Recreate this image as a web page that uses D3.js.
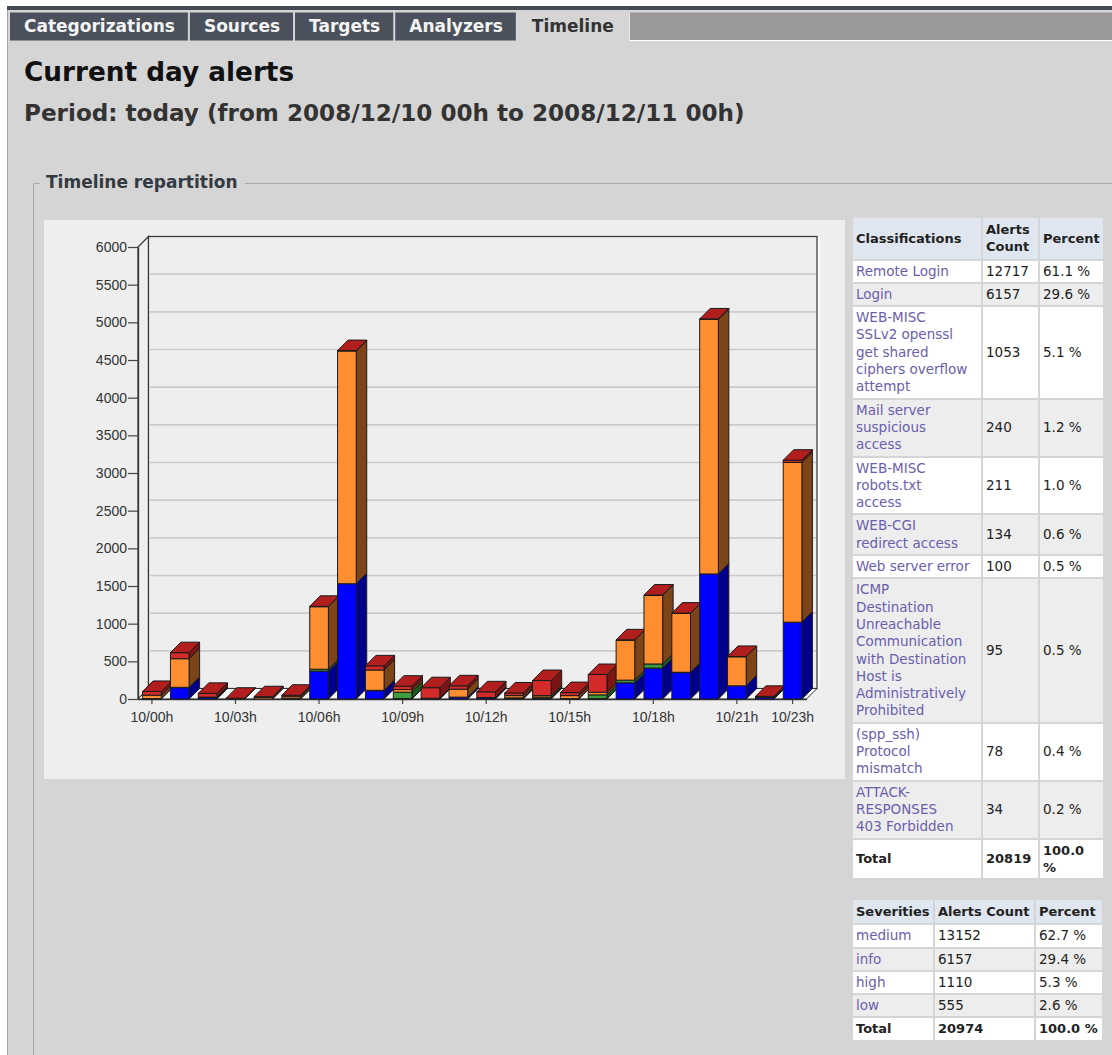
<!DOCTYPE html>
<html>
<head>
<meta charset="utf-8">
<title>Timeline</title>
<script src="https://cdn.jsdelivr.net/npm/d3@7"></script>
<style>
  body { margin:0; width:1112px; height:1055px; overflow:hidden; background:#fff; position:relative; font-family:"DejaVu Sans", Verdana, sans-serif; }
  #page { position:absolute; left:0; top:0; }
  table.stats { position:absolute; left:851px; border-collapse:separate; border-spacing:2px; table-layout:fixed; font-size:13.5px; color:#222; }
  table.stats td { padding:2px 3px; line-height:17.3px; box-sizing:border-box; white-space:pre; text-align:left; vertical-align:middle; }
  table.stats tr.head td { background:#dfe6f0; font-weight:bold; font-size:13px; padding:3px 3px; }
  table.stats tr.odd td { background:#ffffff; }
  table.stats tr.even td { background:#ededed; }
  table.stats tr.total td { background:#ffffff; font-weight:bold; font-size:13px; }
  table.stats td.name { color:#6a5ead; }
</style>
</head>
<body>
<div id="page"></div>
<script>
// ---------------- data ----------------
var tabNames = ["Categorizations", "Sources", "Targets", "Analyzers", "Timeline"];
var activeTab = "Timeline";

var hours = ["10/00h","10/01h","10/02h","10/03h","10/04h","10/05h","10/06h","10/07h",
             "10/08h","10/09h","10/10h","10/11h","10/12h","10/13h","10/14h","10/15h",
             "10/16h","10/17h","10/18h","10/19h","10/20h","10/21h","10/22h","10/23h"];
var shownHours = ["10/00h","10/03h","10/06h","10/09h","10/12h","10/15h","10/18h","10/21h","10/23h"];
var yTicks = [0,500,1000,1500,2000,2500,3000,3500,4000,4500,5000,5500,6000];

// stacked from the bottom: info (blue), low (green), medium (orange), high (red)
var infoCounts   = [0,150,20,0,0,5,370,1530,110,5,5,25,15,10,5,0,5,215,410,350,1660,175,20,1020];
var lowCounts    = [5,5,0,0,0,0,25,0,5,85,0,0,0,5,20,5,50,35,55,5,0,0,0,0];
var mediumCounts = [45,380,5,0,20,25,830,3090,270,35,5,105,5,30,20,40,35,530,910,780,3380,385,5,2120];
var highCounts   = [50,80,50,10,10,20,5,5,55,45,140,45,75,35,200,40,235,5,5,5,5,5,10,30];

var classNames = ["Remote Login", "Login", "WEB-MISC\nSSLv2 openssl\nget shared\nciphers overflow\nattempt",
                  "Mail server\nsuspicious\naccess", "WEB-MISC\nrobots.txt\naccess", "WEB-CGI\nredirect access",
                  "Web server error",
                  "ICMP\nDestination\nUnreachable\nCommunication\nwith Destination\nHost is\nAdministratively\nProhibited",
                  "(spp_ssh)\nProtocol\nmismatch", "ATTACK-\nRESPONSES\n403 Forbidden"];
var classCounts   = [12717, 6157, 1053, 240, 211, 134, 100, 95, 78, 34];
var classPercents = ["61.1 %","29.6 %","5.1 %","1.2 %","1.0 %","0.6 %","0.5 %","0.5 %","0.4 %","0.2 %"];
var classTotal = [20819, "100.0\n%"];

var sevNames    = ["medium", "info", "high", "low"];
var sevCounts   = [13152, 6157, 1110, 555];
var sevPercents = ["62.7 %", "29.4 %", "5.3 %", "2.6 %"];
var sevTotal = [20974, "100.0 %"];

// ---------------- page chrome ----------------
var W = 1112, H = 1055;
var svg = d3.select("#page").append("svg").attr("width", W).attr("height", H);

svg.append("rect").attr("width", W).attr("height", H).attr("fill", "#fff");
svg.append("rect").attr("x", 7).attr("y", 10).attr("width", W - 7).attr("height", H - 10).attr("fill", "#d5d5d5");
svg.append("line").attr("x1", 7.5).attr("y1", 10).attr("x2", 7.5).attr("y2", H).attr("stroke", "#a5a5a5");
svg.append("rect").attr("x", 7).attr("y", 6).attr("width", W - 7).attr("height", 4).attr("fill", "#444b55");

// tabs
var tabX = 10;
tabNames.forEach(function(name){
    var active = name == activeTab;
    var tg = svg.append("g");
    var bg = tg.append("rect").attr("x", tabX).attr("y", 12.5).attr("height", 28)
               .attr("fill", active ? "#d5d5d5" : "#4a515c");
    var t = tg.append("text").text(name)
              .attr("x", tabX + 14).attr("y", 32)
              .attr("font-size", "17px").attr("font-weight", "bold")
              .attr("fill", active ? "#333" : "#f4f4f4");
    var w = t.node().getComputedTextLength() + 27;
    bg.attr("width", w);
    if (active) bg.attr("y", 10).attr("height", 31);
    tabX += w + 2;
});
svg.append("rect").attr("x", tabX).attr("y", 12.5).attr("width", W - tabX).attr("height", 28).attr("fill", "#999");
svg.append("path").attr("d", "M" + (tabX + 0.5) + ",12.5V40.5H" + W).attr("fill", "none").attr("stroke", "#fff");

svg.append("text").text("Current day alerts").attr("x", 24).attr("y", 81)
   .attr("font-size", "26.3px").attr("font-weight", "bold").attr("fill", "#111");
svg.append("text").text("Period: today (from 2008/12/10 00h to 2008/12/11 00h)").attr("x", 24).attr("y", 121)
   .attr("font-size", "23.1px").attr("font-weight", "bold").attr("fill", "#333");

// fieldset
svg.append("path").attr("d", "M40,183.5H33.5V" + H + "M245,183.5H" + W)
   .attr("fill", "none").attr("stroke", "#a9a9a9");
svg.append("text").text("Timeline repartition").attr("x", 46).attr("y", 188)
   .attr("font-size", "17px").attr("font-weight", "bold").attr("fill", "#333a42");

// ---------------- chart ----------------
svg.append("rect").attr("x", 44).attr("y", 220).attr("width", 801).attr("height", 559).attr("fill", "#eeeeee");

var x = d3.scaleBand().domain(hours).range([138, 806.5]).paddingInner(0.33).paddingOuter(0.165);
var y = d3.scaleLinear().domain([0, 6000]).range([699, 247]);
var depth = 10.5;

var colors = {
    info:   {front: "#0000ff", side: "#00008c", top: "#0000b4"},
    low:    {front: "#3e9b3e", side: "#1d5c1d", top: "#2f7a2f"},
    medium: {front: "#ff8e30", side: "#7c4417", top: "#c86a20"},
    high:   {front: "#d52a2a", side: "#7d1414", top: "#b21e1e"}
};

var x0 = x.range()[0], x1 = x.range()[1];
var wallTop = y(6000) - depth, wallBottom = y(0) - depth;

var chart = svg.append("g");
// side wall + back wall
chart.append("path")
     .attr("d", "M" + x0 + "," + y(6000) + "L" + (x0 + depth) + "," + wallTop + "V" + wallBottom + "L" + x0 + "," + y(0) + "Z")
     .attr("fill", "#eeeeee").attr("stroke", "#333").attr("stroke-width", 1.2);
chart.append("rect").attr("x", x0 + depth).attr("y", wallTop)
     .attr("width", x1 - x0).attr("height", wallBottom - wallTop)
     .attr("fill", "#eeeeee").attr("stroke", "#333").attr("stroke-width", 1.2);
chart.append("line").attr("x1", x1 + depth + 2).attr("x2", x1 + depth + 2)
     .attr("y1", wallTop + 1).attr("y2", wallBottom).attr("stroke", "#fff").attr("stroke-width", 1.5);

chart.selectAll("line.grid").data(yTicks.slice(1, -1)).enter().append("line")
     .attr("class", "grid")
     .attr("x1", x0 + depth + 1).attr("x2", x1 + depth - 1)
     .attr("y1", function(d){ return y(d) - depth; })
     .attr("y2", function(d){ return y(d) - depth; })
     .attr("stroke", "#cbcbcb").attr("stroke-width", 1.6);

// floor
chart.append("path")
     .attr("d", "M" + x0 + "," + y(0) + "L" + (x0 + depth) + "," + wallBottom + "H" + (x1 + depth) + "L" + x1 + "," + y(0) + "Z")
     .attr("fill", "#f8f8f8").attr("stroke", "#333").attr("stroke-width", 1);

// axes
var yAxis = d3.axisLeft(y).tickValues(yTicks).tickFormat(d3.format("d")).tickSize(10).tickSizeOuter(0).tickPadding(1);
var gy = chart.append("g").attr("transform", "translate(" + x0 + ",0)").call(yAxis);
var xAxis = d3.axisBottom(x).tickValues(shownHours).tickSize(5).tickSizeOuter(0).tickPadding(8);
var gx = chart.append("g").attr("transform", "translate(0," + y(0) + ")").call(xAxis);
[gy, gx].forEach(function(a){
    a.select(".domain").attr("stroke", "#333").attr("stroke-width", 1.3);
    a.selectAll(".tick line").attr("stroke", "#444").attr("stroke-width", 1.2);
    a.selectAll(".tick text").attr("font-family", "'Liberation Sans', Arial, sans-serif")
     .attr("font-size", "14px").attr("fill", "#333");
});

// stacked 3D bars
var rows = hours.map(function(h, i){
    return {hour: h, info: infoCounts[i], low: lowCounts[i], medium: mediumCounts[i], high: highCounts[i]};
});
var stack = d3.stack().keys(["info", "low", "medium", "high"])(rows);

var bars = chart.append("g").attr("stroke", "#1a1a1a").attr("stroke-width", 1).attr("stroke-linejoin", "round");
hours.forEach(function(h, i){
    var bx = x(h), bw = x.bandwidth();
    stack.forEach(function(layer, k){
        var d = layer[i], yt = y(d[1]), yb = y(d[0]);
        var c = colors[layer.key];
        if (yb - yt > 0.3) {
            bars.append("path")
                .attr("d", "M" + (bx + bw) + "," + yt + "L" + (bx + bw + depth) + "," + (yt - depth) +
                           "V" + (yb - depth) + "L" + (bx + bw) + "," + yb + "Z")
                .attr("fill", c.side);
            bars.append("rect").attr("x", bx).attr("y", yt).attr("width", bw).attr("height", yb - yt)
                .attr("fill", c.front);
        }
        if (k == stack.length - 1) {
            bars.append("path")
                .attr("d", "M" + bx + "," + yt + "L" + (bx + depth) + "," + (yt - depth) +
                           "H" + (bx + bw + depth) + "L" + (bx + bw) + "," + yt + "Z")
                .attr("fill", c.top);
        }
    });
});

// ---------------- tables ----------------
function buildTable(top, widths, header, names, counts, percents, total){
    var table = d3.select("body").append("table").attr("class", "stats").style("top", top + "px");
    var hr = table.append("tr").attr("class", "head");
    header.forEach(function(t, j){ hr.append("td").style("width", widths[j] + "px").text(t); });
    names.forEach(function(n, i){
        var tr = table.append("tr").attr("class", i % 2 == 0 ? "odd" : "even");
        tr.append("td").attr("class", "name").text(n);
        tr.append("td").text(counts[i]);
        tr.append("td").text(percents[i]);
    });
    var tt = table.append("tr").attr("class", "total");
    tt.append("td").text("Total");
    tt.append("td").text(total[0]);
    tt.append("td").text(total[1]);
}

buildTable(216, [128, 55, 62], ["Classifications", "Alerts\nCount", "Percent"],
           classNames, classCounts, classPercents, classTotal);
buildTable(898, [80, 99, 66], ["Severities", "Alerts Count", "Percent"],
           sevNames, sevCounts, sevPercents, sevTotal);
</script>
</body>
</html>
